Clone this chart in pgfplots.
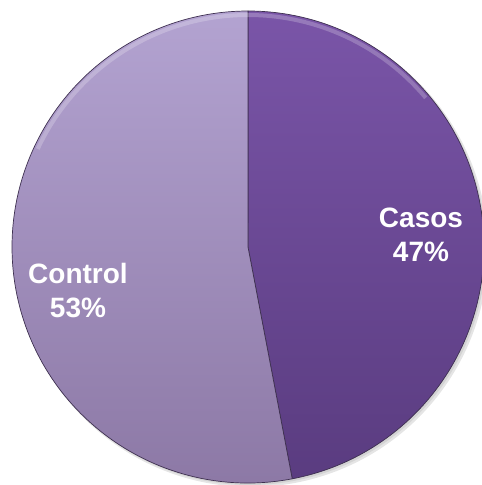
\documentclass[border=0pt]{standalone}
\usepackage{pgfplots}
\usepackage{pgfplotstable}
\pgfplotsset{compat=1.18}
\usepackage{fontspec}
\setmainfont{Liberation Sans}
\definecolor{casosTop}{HTML}{7A55A8}
\definecolor{casosBot}{HTML}{5A3C80}
\definecolor{ctrlTop}{HTML}{B3A3D1}
\definecolor{ctrlBot}{HTML}{8B77A4}
\definecolor{edge}{HTML}{3E3050}
\pgfplotstableread{
label value
Casos 47
Control 53
}\piedata
\begin{document}
\begin{tikzpicture}
\pgfplotstablegetelem{0}{value}\of\piedata \let\va\pgfplotsretval
\pgfplotstablegetelem{1}{value}\of\piedata \let\vb\pgfplotsretval
\pgfmathsetmacro{\tot}{\va+\vb}
\pgfmathsetmacro{\aA}{90-(\va/\tot)*360}
\pgfmathsetmacro{\aB}{\aA-(\vb/\tot)*360}
\begin{axis}[x=1pt,y=1pt,xmin=0,xmax=482,ymin=0,ymax=485,hide axis,clip=true]
% shadow
\fill[black,opacity=0.10] (axis cs:251,235) circle[radius=237pt];
\fill[black,opacity=0.08] (axis cs:250,236) circle[radius=236pt];
% slices
\shade[top color=casosTop,bottom color=casosBot,draw=edge,line width=0.7pt,line join=round]
  (axis cs:248,238) -- ++(90:236pt) arc[start angle=90,end angle=\aA,radius=236pt] -- cycle;
\shade[top color=ctrlTop,bottom color=ctrlBot,draw=edge,line width=0.7pt,line join=round]
  (axis cs:248,238) -- ++(\aA:236pt) arc[start angle=\aA,end angle=\aB,radius=236pt] -- cycle;
% rim highlight
\draw[white,opacity=0.22,line width=4pt] (axis cs:248,238) ++(155:232pt) arc[start angle=155,end angle=40,radius=232pt];
\node[white,font=\bfseries\fontsize{28}{34}\selectfont,align=center] at (axis cs:421,250) {Casos\\47\%};
\node[white,font=\bfseries\fontsize{28}{34}\selectfont,align=center] at (axis cs:78,194) {Control\\53\%};
\end{axis}
\pgfresetboundingbox
\path[use as bounding box] (current axis.south west) rectangle (current axis.north east);
\end{tikzpicture}
\end{document}
